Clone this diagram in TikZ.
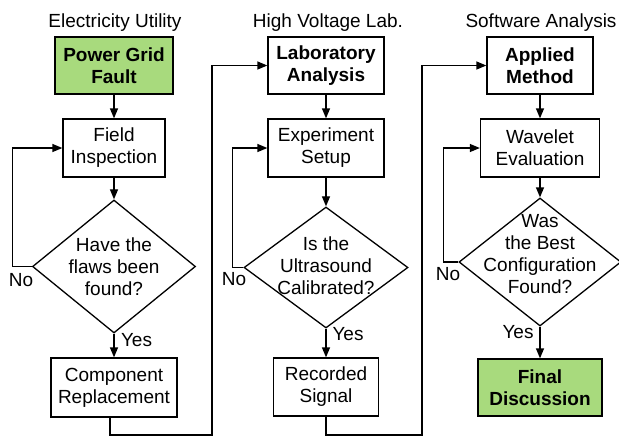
\documentclass[tikz,border=0pt]{standalone}
\usepackage{fontspec}
\setmainfont{Liberation Sans}
\usetikzlibrary{shapes.geometric,arrows.meta}
\definecolor{boxgreen}{RGB}{168,218,125}
\begin{document}
\begin{tikzpicture}[x=1pt,y=-1pt,
  font=\fontsize{19}{22}\selectfont,
  box/.style={draw, line width=1.3pt, align=center, inner sep=0pt, minimum height=57pt},
  startbox/.style={box, fill=boxgreen, font=\fontsize{19}{22}\selectfont\bfseries},
  diam/.style={draw, diamond, line width=1.3pt, inner sep=0pt},
  dtxt/.style={align=center, inner sep=0pt},
  lbl/.style={inner sep=0pt, anchor=base},
  arr/.style={-{Triangle[length=10pt,width=8pt]}, line width=1.3pt}]
\useasboundingbox (0,0) rectangle (619,437);

% titles
\node[lbl] (t1) at (115,27) {Electricity Utility};
\node[lbl] (t2) at (328,27) {High Voltage Lab.};
\node[lbl] (t3) at (541,27) {Software Analysis};

% column 1
\node[startbox, minimum width=118pt] (pg) at (114,65.5) {Power Grid\\Fault};
\node[box, minimum width=102pt, minimum height=58pt] (fi) at (114,148) {Field\\Inspection};
\node[diam, minimum width=163pt, minimum height=133pt] (d1) at (114,266.5) {};
\node[dtxt] (d1t) at (114,266.5) {Have the\\flaws been\\found?};
\node[box, minimum width=126pt, minimum height=59pt] (cr) at (114,387.5) {Component\\Replacement};

% column 2
\node[box, minimum width=116pt, font=\fontsize{19}{22}\selectfont\bfseries] (la) at (326,65.5) {Laboratory\\Analysis};
\node[box, minimum width=116pt, minimum height=58pt] (es) at (326,148) {Experiment\\Setup};
\node[diam, minimum width=164pt, minimum height=121pt] (d2) at (326,267.5) {};
\node[dtxt] (d2t) at (326,266) {Is the\\Ultrasound\\Calibrated?};
\node[box, minimum width=105pt, minimum height=58pt] (rs) at (326,387) {Recorded\\Signal};

% column 3
\node[box, minimum width=106pt, font=\fontsize{19}{22}\selectfont\bfseries] (am) at (540,65.5) {Applied\\Method};
\node[box, minimum width=119pt, minimum height=58pt] (we) at (540,148) {Wavelet\\Evaluation};
\node[diam, minimum width=162pt, minimum height=128pt] (d3) at (540,262) {};
\node[dtxt] (d3t) at (540,254) {Was\\the Best\\Configuration\\Found?};
\node[startbox, minimum width=124pt] (fd) at (540,387.5) {Final\\Discussion};

% labels
\node[lbl] (no1) at (21,286) {No};
\node[lbl] (yes1) at (136.5,346) {Yes};
\node[lbl] (no2) at (234,285) {No};
\node[lbl] (yes2) at (348,340) {Yes};
\node[lbl] (no3) at (448,280) {No};
\node[lbl] (yes3) at (518,338) {Yes};

% coordinates for cross-column connectors
\coordinate (b1) at (212,435);
\coordinate (b2) at (422,435);

% column 1 connectors
\draw[arr] (pg) -- (fi);
\draw[arr] (fi) -- (d1);
\draw[arr] (d1) -- (cr);
\draw[arr] (d1.west) -- ++(-19.5,0) |- (fi.west);

% column 2 connectors
\draw[arr] (la) -- (es);
\draw[arr] (es) -- (d2);
\draw[arr] (d2) -- (rs);
\draw[arr] (d2.west) -- ++(-11,0) |- (es.west);

% column 3 connectors
\draw[arr] (am) -- (we);
\draw[arr] (we) -- (d3);
\draw[arr] (d3) -- (fd);
\draw[arr] (d3.west) -- ++(-15,0) |- (we.west);

% cross-column
\draw[arr] ([xshift=-4pt]cr.south) |- (b1) |- (la.west);
\draw[arr] (rs.south) |- (b2) |- (am.west);
\end{tikzpicture}
\end{document}
